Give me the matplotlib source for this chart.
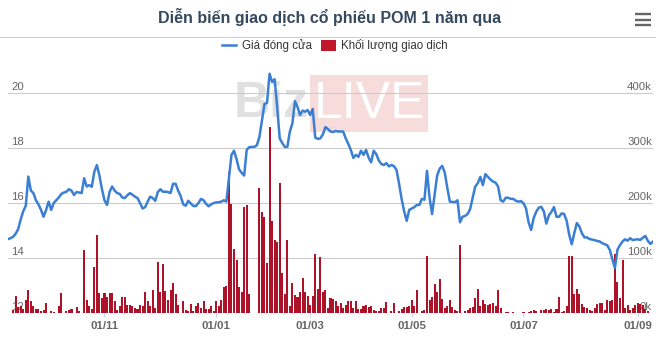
import numpy as np
import matplotlib
matplotlib.use('Agg')
import matplotlib.pyplot as plt
from matplotlib.lines import Line2D
from matplotlib.patches import Patch, Rectangle
from matplotlib.transforms import blended_transform_factory, offset_copy

plt.rcParams['font.family'] = ['Liberation Sans', 'DejaVu Sans']

# gia dong cua theo phien (1 nam qua)
price = [
    14.69, 14.72, 14.77, 14.88, 15.05, 15.4, 15.7, 15.9, 16.96, 16.45,
    16.36, 16.1, 15.95, 15.75, 15.5, 15.75, 16.05, 15.75, 16.0, 16.1,
    16.2, 16.33, 16.38, 16.41, 16.5, 16.45, 16.29, 16.4, 16.38, 16.36,
    16.9, 16.6, 16.65, 16.59, 17.14, 17.38, 17.0, 16.5, 16.1, 15.93,
    16.4, 16.6, 16.45, 16.36, 16.33, 16.2, 16.18, 16.28, 16.36, 16.3,
    16.23, 16.18, 16.0, 15.8, 15.85, 16.05, 16.23, 16.18, 16.08, 16.4,
    16.5, 16.41, 16.41, 16.4, 16.36, 16.7, 16.7, 16.45, 16.25, 15.95,
    15.9, 16.08, 15.98, 15.89, 15.89, 16.0, 16.15, 16.1, 15.97, 15.88,
    15.95, 16.0, 16.02, 16.03, 16.05, 16.1, 16.05, 16.9, 17.75, 17.9,
    17.6, 17.22, 17.1, 17.0, 17.93, 18.03, 18.04, 18.04, 18.1, 18.4,
    19.0, 19.6, 19.64, 20.7, 20.4, 20.5, 19.5, 18.35, 18.18, 18.04,
    18.04, 18.6, 18.9, 19.7, 19.5, 19.2, 19.36, 19.32, 19.38, 19.2,
    19.42, 18.38, 18.33, 18.35, 18.5, 18.76, 18.69, 18.6, 18.58, 18.62,
    18.6, 18.6, 18.6, 18.35, 18.15, 17.93, 17.64, 17.75, 17.68, 17.9,
    17.75, 17.93, 17.65, 17.48, 17.9, 17.78, 17.55, 17.42, 17.38, 17.45,
    17.33, 17.38, 17.34, 17.2, 16.7, 16.15, 15.7, 15.35, 15.75, 15.8,
    15.85, 15.93, 15.93, 16.15, 16.12, 17.17, 16.2, 15.6, 16.3, 17.0,
    17.25, 17.35, 17.1, 16.55, 16.05, 16.04, 16.03, 16.1, 15.3, 15.5,
    15.53, 15.6, 15.78, 16.2, 16.6, 16.72, 16.95, 16.65, 17.05, 16.95,
    16.85, 16.78, 16.74, 16.6, 16.1, 16.05, 16.19, 16.19, 16.15, 16.15,
    16.08, 16.05, 16.07, 15.99, 15.8, 15.3, 15.02, 15.45, 15.68, 15.83,
    15.86, 15.7, 15.25, 15.55, 15.68, 15.85, 15.5, 15.5, 15.62, 15.6,
    15.35, 14.85, 14.5, 14.9, 15.27, 15.15, 14.9, 14.75, 14.75, 14.69,
    14.67, 14.65, 14.62, 14.6, 14.54, 14.5, 14.46, 14.29, 13.95, 13.64,
    14.3, 14.47, 14.6, 14.68, 14.63, 14.72, 14.65, 14.67, 14.68, 14.66,
    14.74, 14.8, 14.62, 14.51, 14.6,
]

# khoi luong giao dich (nghin cp)
volume_k = [
    0, 0, 6, 31, 11, 13, 7, 24, 42, 22,
    13, 8, 8, 4, 5, 18, 0, 3, 2, 0,
    13, 36, 0, 4, 6, 7, 0, 11, 3, 0,
    115, 24, 12, 8, 84, 142, 36, 27, 37, 30,
    37, 37, 22, 6, 13, 29, 29, 14, 15, 13,
    9, 7, 15, 13, 38, 22, 13, 41, 9, 93,
    38, 89, 40, 24, 41, 54, 35, 15, 0, 21,
    6, 4, 17, 4, 12, 19, 9, 22, 7, 7,
    13, 3, 21, 13, 24, 47, 50, 257, 199, 117,
    97, 47, 39, 193, 196, 34, 0, 0, 0, 227,
    183, 174, 91, 339, 168, 132, 129, 236, 72, 34,
    133, 12, 54, 33, 30, 39, 64, 39, 31, 14,
    31, 108, 44, 102, 39, 41, 9, 27, 25, 21,
    12, 18, 9, 15, 21, 21, 9, 21, 7, 7,
    13, 15, 11, 13, 5, 3, 3, 9, 9, 20,
    0, 3, 18, 0, 3, 7, 11, 11, 12, 24,
    12, 41, 0, 3, 6, 104, 24, 29, 53, 38,
    61, 26, 10, 12, 24, 11, 5, 3, 124, 0,
    3, 5, 10, 11, 28, 44, 12, 23, 17, 14,
    16, 18, 12, 42, 10, 0, 2, 2, 0, 1,
    0, 0, 0, 1, 0, 1, 3, 5, 3, 0,
    5, 6, 8, 6, 8, 2, 8, 29, 2, 3,
    12, 104, 104, 35, 44, 34, 17, 11, 10, 6,
    4, 10, 16, 18, 18, 6, 24, 21, 24, 108,
    56, 27, 97, 10, 14, 6, 10, 14, 19, 16,
    14, 8, 3, 0, 0,
]

tick_idx = [38, 82, 119, 159, 203, 248]
tick_labels = ['01/11', '01/01', '01/03', '01/05', '01/07', '01/09']
price_ticks = [12, 14, 16, 18, 20]
vol_ticks = [0, 100, 200, 300, 400]

line_color = '#3b7fd4'
bar_color = '#ad1228'

W, H = 670, 344


def fx(px):
    return px / W


def fy(py):
    return 1 - py / H


fig = plt.figure(figsize=(W / 100, H / 100), dpi=100)

# watermark BizLIVE
fig.patches.append(Rectangle((fx(310), fy(132)), fx(428) - fx(310), fy(75) - fy(132),
                             transform=fig.transFigure, facecolor='#f7dcdc',
                             edgecolor='none', zorder=-2))
fig.text(fx(234), fy(104), 'Biz', fontsize=36, fontweight='bold', color='#e0e0e0',
         va='center', ha='left', zorder=-1)
fig.text(fx(369), fy(104), 'LIVE', fontsize=37, color='white',
         va='center', ha='center', zorder=-1)

ax = fig.add_axes([fx(8), fy(313), (653 - 8) / W, (313 - 65) / H])
ax.patch.set_visible(False)
ax2 = ax.twinx()
ax2.patch.set_visible(False)

x = np.arange(len(price))
ax.bar(x, volume_k, width=0.8, color=bar_color, zorder=3)
ax2.plot(x, price, color=line_color, lw=1.8, solid_joinstyle='round')

ax.set_xlim(0, 254)
ax.set_ylim(0, 248 / 0.55)
ax2.set_ylim(12, 12 + 248 / 27.5)

ax.set_yticks(vol_ticks)
ax.grid(axis='y', color='#cccccc', lw=0.8, zorder=0)
ax.set_axisbelow(True)
ax.tick_params(axis='y', left=False, labelleft=False)
ax2.set_yticks([])

ax.set_xticks(tick_idx)
ax.set_xticklabels(tick_labels)
ax.tick_params(axis='x', length=3, color='#ccd6eb', labelcolor='#666666',
               labelsize=8.2, pad=2.5)
for t in ax.get_xticklabels():
    t.set_fontweight('bold')

for a in (ax, ax2):
    for s in a.spines.values():
        s.set_visible(False)

# nhan truc y nam trong vung ve, phia tren duong luoi
tl = offset_copy(blended_transform_factory(ax.transAxes, ax2.transData), fig=fig, x=3, y=1, units='dots')
for v in price_ticks:
    ax.text(0, v, str(v), transform=tl, ha='left', va='bottom', fontsize=8.2,
            color='#666666', zorder=1)
tr = offset_copy(blended_transform_factory(ax.transAxes, ax.transData), fig=fig, x=-1, y=1, units='dots')
for v in vol_ticks:
    ax.text(1, v, f'{v}k', transform=tr, ha='right', va='bottom', fontsize=8.2,
            color='#666666', zorder=1)

# tieu de + duong ke
fig.text(fx(330), fy(17), 'Diễn biến giao dịch cổ phiếu POM 1 năm qua',
         ha='center', va='center', fontsize=11.5, fontweight='bold', color='#34495e')
fig.add_artist(Line2D([0, fx(655)], [fy(37), fy(37)], transform=fig.transFigure,
                      color='#d0d0d0', lw=0.8))
for yy in (14, 19.5, 25):
    fig.add_artist(Line2D([fx(635), fx(651)], [fy(yy), fy(yy)], transform=fig.transFigure,
                          color='#666666', lw=1.7, solid_capstyle='butt'))

handles = [Line2D([], [], color=line_color, lw=1.8),
           Patch(facecolor='#c0172b', edgecolor='none')]
fig.legend(handles, ['Giá đóng cửa', 'Khối lượng giao dịch'], loc='center',
           bbox_to_anchor=(fx(335), fy(46)), ncol=2, frameon=False, fontsize=8.3,
           handlelength=1.25, handleheight=1.0, handletextpad=0.5, columnspacing=0.8,
           labelcolor='#333333')

fig.savefig('out.png', dpi=100)
